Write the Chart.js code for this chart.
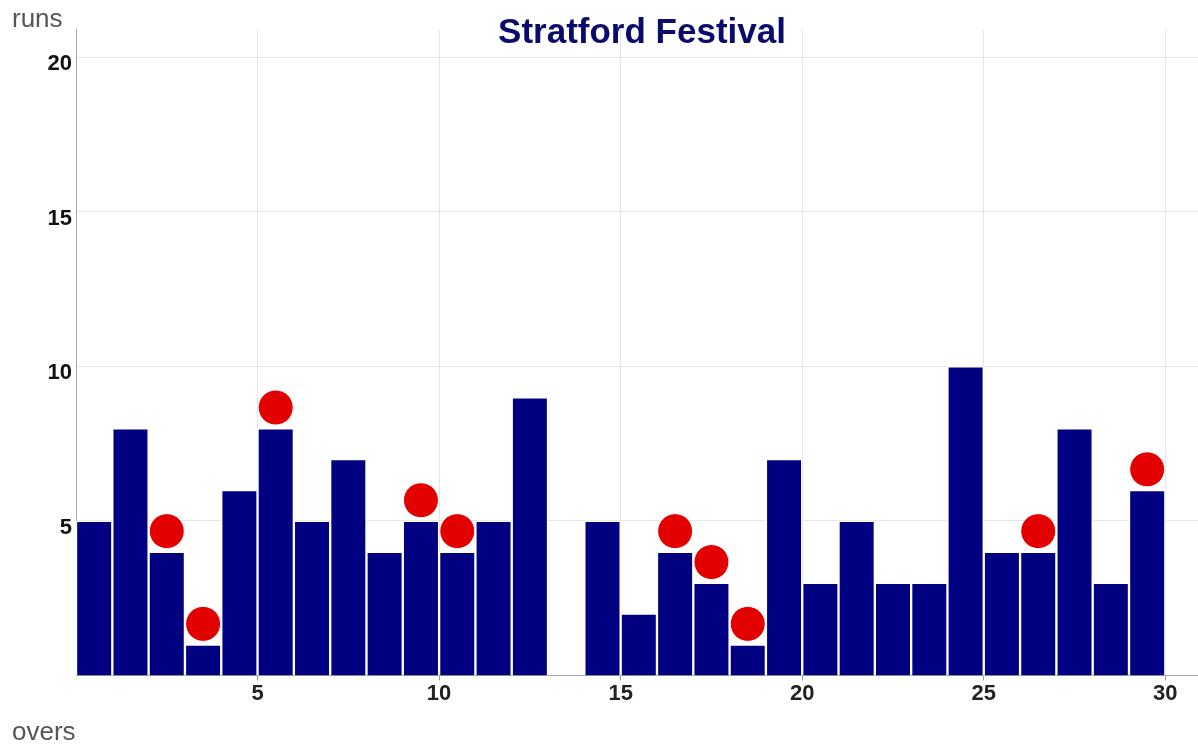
<!DOCTYPE html>
<html>
<head>
<meta charset="utf-8">
<script src="https://cdn.jsdelivr.net/npm/chart.js@4/dist/chart.umd.min.js"></script>
<style>
  html, body { margin: 0; padding: 0; background: #fff; }
  #wrap { width: 1198px; height: 744px; position: relative; }
</style>
</head>
<body>
<div id="wrap"><canvas id="c" width="1198" height="744"></canvas></div>
<script>
const chartTitle = 'Stratford Festival';
const yLabel = 'runs';
const xLabel = 'overs';
const overs = [1,2,3,4,5,6,7,8,9,10,11,12,13,14,15,16,17,18,19,20,21,22,23,24,25,26,27,28,29,30];
const runs  = [5,8,4,1,6,8,5,7,4,5,4,5,9,0,5,2,4,3,1,7,3,5,3,3,10,4,4,8,3,6];
const wicketOvers = [3,4,6,10,11,17,18,19,27,30];
const xTicks = [5,10,15,20,25,30];
const yTicks = [5,10,15,20];

const barData = overs.map((o, i) => ({ x: o - 0.5, y: runs[i] }));
const wicketData = wicketOvers.map(o => ({ x: o - 0.5, y: runs[overs.indexOf(o)] + 0.67 }));

const textPlugin = {
  id: 'texts',
  afterDraw(chart) {
    const ctx = chart.ctx;
    ctx.save();
    ctx.fillStyle = '#0b0b6b';
    ctx.font = 'bold 35px "Liberation Sans", Arial, sans-serif';
    ctx.textAlign = 'center';
    ctx.textBaseline = 'alphabetic';
    ctx.fillText(chartTitle, 642, 43);
    ctx.fillStyle = '#555';
    ctx.font = '26px "Liberation Sans", Arial, sans-serif';
    ctx.textAlign = 'left';
    ctx.fillText(yLabel, 12, 27);
    ctx.fillText(xLabel, 12, 740);
    ctx.restore();
  }
};

new Chart(document.getElementById('c'), {
  type: 'bar',
  data: {
    datasets: [
      {
        type: 'scatter',
        data: wicketData,
        backgroundColor: '#e30000',
        borderColor: '#ffffff',
        borderWidth: 1,
        pointRadius: 17.5,
        pointHoverRadius: 17.5,
        clip: false,
        order: 0
      },
      {
        type: 'bar',
        data: barData,
        backgroundColor: '#000080',
        borderColor: '#ffffff',
        borderWidth: 1.5,
        barPercentage: 1,
        categoryPercentage: 1,
        order: 1
      }
    ]
  },
  options: {
    responsive: false,
    animation: false,
    layout: { autoPadding: false, padding: { top: 29.5, right: 0, left: 0, bottom: 0 } },
    plugins: { legend: { display: false }, title: { display: false }, tooltip: { enabled: false } },
    scales: {
      x: {
        type: 'linear',
        min: 0,
        max: 30.9,
        offset: false,
        afterBuildTicks: s => { s.ticks = xTicks.map(v => ({ value: v })); },
        afterFit: s => { s.height = 68.5; s.paddingRight = 0; s.paddingLeft = 0; },
        grid: { color: '#e6e6e6', lineWidth: 1, tickColor: '#999', tickLength: 5, offset: false },
        border: { display: true, color: '#a6a6a6', width: 1 },
        ticks: {
          color: '#222',
          font: { family: '"Liberation Sans", Arial, sans-serif', size: 22, weight: 'bold' },
          padding: 0,
          maxRotation: 0,
          autoSkip: false
        }
      },
      y: {
        type: 'linear',
        min: 0,
        max: 20.9,
        afterBuildTicks: s => { s.ticks = yTicks.map(v => ({ value: v })); },
        afterFit: s => { s.width = 76; s.paddingTop = 0; s.paddingBottom = 0; },
        grid: { color: '#e6e6e6', lineWidth: 1, drawTicks: false },
        border: { display: true, color: '#a6a6a6', width: 1 },
        ticks: {
          color: '#111',
          font: { family: '"Liberation Sans", Arial, sans-serif', size: 22, weight: 'bold' },
          padding: 4,
          labelOffset: 7
        }
      }
    }
  },
  plugins: [textPlugin]
});
</script>
</body>
</html>
